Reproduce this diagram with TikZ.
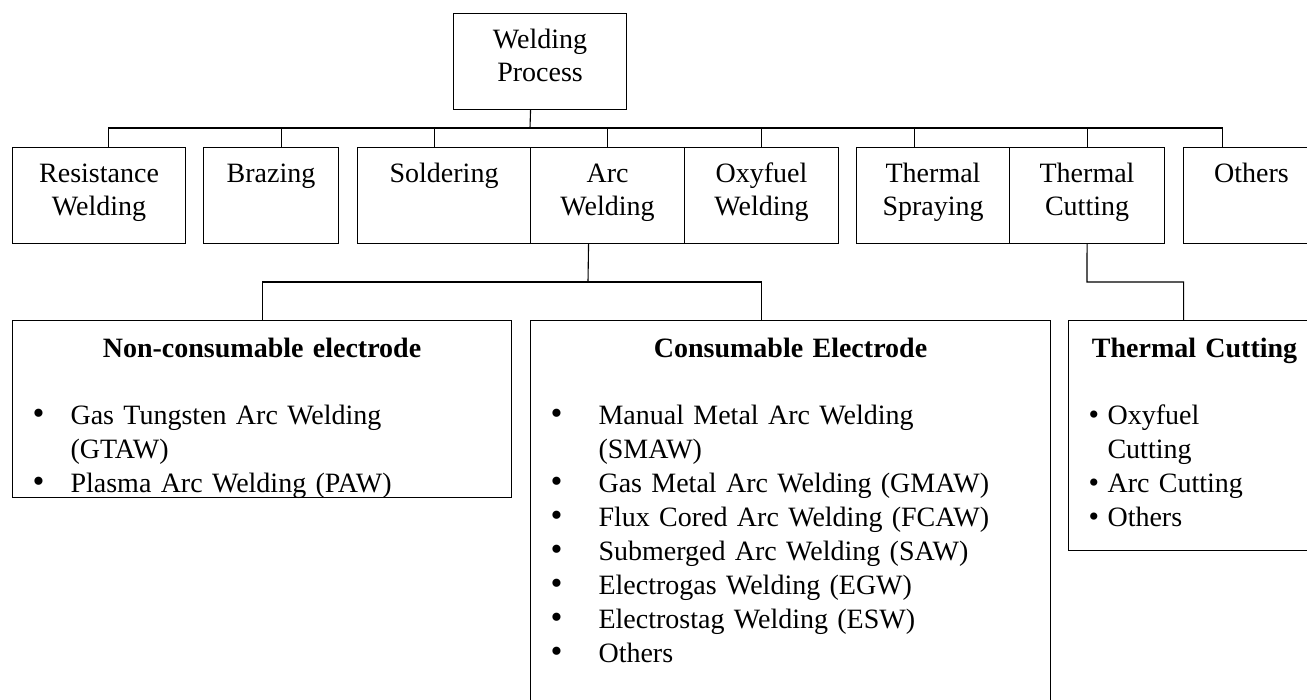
\documentclass[tikz,border=0pt]{standalone}
\usepackage{fontspec}
\setmainfont{Liberation Serif}
\usepackage{tikz}

\newcommand{\bitem}[3][34]{\hspace*{20pt}\makebox[#2][l]{\fontsize{#1pt}{34pt}\selectfont\textbullet}#3}

\begin{document}
\begin{tikzpicture}[
		x=1pt, y=-1pt,
		line width=1.1pt,
		every node/.style={font=\fontsize{28pt}{34pt}\selectfont},
		proc/.style={draw, anchor=north west, inner sep=0pt, align=center, text height=35pt, text depth=61pt, font=\fontsize{28pt}{33pt}\selectfont},
		group/.style={draw, anchor=north west, inner sep=0pt, align=left, text height=37pt}
		]
		\useasboundingbox (0,0) rectangle (1307,700);
		\clip (0,0) rectangle (1307,700);
		
		\node[proc, text width=173pt] (wp) at (453,13) {Welding\\Process};
		
		\node[proc, text width=173pt] (res) at (12,147) {Resistance\\Welding};
		\node[proc, text width=135pt] (braz) at (203,147) {Brazing};
		\node[proc, text width=173pt] (sold) at (357,147) {Soldering};
		\node[proc, text width=154pt] (arc) at (530,147) {Arc\\Welding};
		\node[proc, text width=154pt] (oxy) at (684,147) {Oxyfuel\\Welding};
		\node[proc, text width=153pt] (spray) at (856,147) {Thermal\\Spraying};
		\node[proc, text width=155pt] (tcut) at (1009,147) {Thermal\\Cutting};
		\node[proc, text width=136pt] (oth) at (1183,147) {Others};
		
		\node[group, text width=499pt, text depth=140pt] (noncons) at (12,320) {%
			{\centering\textbf{Non-consumable electrode}\par}\vspace{33pt}%
			\raggedright
			\bitem{38pt}{Gas Tungsten Arc Welding}\\
			\hspace*{58pt}(GTAW)\\
			\bitem{38pt}{Plasma Arc Welding (PAW)}};
		\node[group, text width=520pt, text depth=363pt] (cons) at (530,320) {%
			{\centering\textbf{Consumable Electrode}\par}\vspace{33pt}%
			\raggedright
			\bitem{48pt}{Manual Metal Arc Welding}\\
			\hspace*{68pt}(SMAW)\\
			\bitem{48pt}{Gas Metal Arc Welding (GMAW)}\\
			\bitem{48pt}{Flux Cored Arc Welding (FCAW)}\\
			\bitem{48pt}{Submerged Arc Welding (SAW)}\\
			\bitem{48pt}{Electrogas Welding (EGW)}\\
			\bitem{48pt}{Electrostag Welding (ESW)}\\
			\bitem{48pt}{Others}};
		\node[group, text width=252pt, text depth=193pt] (cutlist) at (1068,320) {%
			{\centering\textbf{Thermal Cutting}\par}\vspace{33pt}%
			\raggedright
			\bitem[30]{19pt}{Oxyfuel}\\
			\hspace*{39pt}Cutting\\
			\bitem[30]{19pt}{Arc Cutting}\\
			\bitem[30]{19pt}{Others}};
		
		\coordinate (bus) at (530,128);
		\coordinate (arcbus) at (588,282);
		\coordinate (cutbus) at (1087,282);
		
		\draw ([xshift=-9.5pt]wp.south) -- (bus);
		\draw ([xshift=9.5pt]res.north) |- (bus) -| ([xshift=-29pt]oth.north);
		\foreach \n/\dx in {braz/10.5, sold/-9.5, arc/0, oxy/0, spray/-18.5, tcut/0}
			\draw ([xshift=\dx pt]\n.north) -- ([xshift=\dx pt]\n.north |- bus);
		
		\draw ([xshift=-19pt]arc.south) -- (arcbus);
		\draw (noncons.north) |- (arcbus) -| ([xshift=-29pt]cons.north);
		\draw (tcut.south) -- (cutbus) -| ([xshift=-11pt]cutlist.north);
		
	\end{tikzpicture}
\end{document}
